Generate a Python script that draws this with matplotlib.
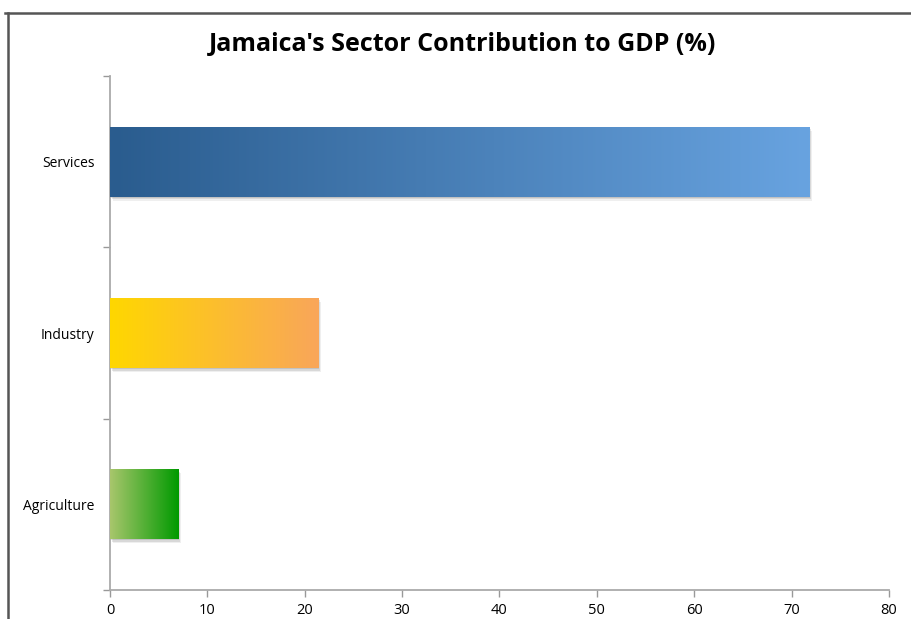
import matplotlib
matplotlib.use("Agg")
import matplotlib.pyplot as plt
import numpy as np
from matplotlib.colors import LinearSegmentedColormap
from matplotlib.lines import Line2D
from matplotlib.patches import Rectangle
import matplotlib.transforms as mtransforms

categories = ["Agriculture", "Industry", "Services"]
values = [7.0, 21.4, 71.8]
grad_left = ["#a8c66c", "#ffd700", "#2a5c8e"]
grad_right = ["#009a00", "#f9a65a", "#68a3e0"]
xticks = [0, 10, 20, 30, 40, 50, 60, 70, 80]
title = "Jamaica's Sector Contribution to GDP (%)"

plt.rcParams['font.family'] = ['Open Sans', 'DejaVu Sans']

fig = plt.figure(figsize=(9.11, 6.19), dpi=100)
ax = fig.add_axes([0.1207, 0.0468, 0.8551, 0.8304])

ypos = np.arange(len(categories))
bar_h = 0.41
bars = ax.barh(ypos, values, height=bar_h, color="white", zorder=2)

# soft shadows
for b in bars:
    x0, y0 = b.get_x(), b.get_y()
    w, h = b.get_width(), b.get_height()
    for dx, dy, a in [(1, -1, 0.25), (2, -2.5, 0.2), (3, -4, 0.12)]:
        off = mtransforms.ScaledTranslation(dx / 100, dy / 100, fig.dpi_scale_trans)
        r = Rectangle((x0, y0), w, h, facecolor="#808080", edgecolor="none",
                      alpha=a, transform=ax.transData + off, zorder=1.5)
        ax.add_patch(r)

grad = np.linspace(0, 1, 256).reshape(1, -1)
for b, cl, cr in zip(bars, grad_left, grad_right):
    cmap = LinearSegmentedColormap.from_list("g", [cl, cr])
    x0, y0 = b.get_x(), b.get_y()
    w, h = b.get_width(), b.get_height()
    im = ax.imshow(grad, cmap=cmap, aspect="auto", extent=[x0, x0 + w, y0, y0 + h],
                   zorder=3, interpolation="bilinear")
    im.set_clip_path(b)

ax.set_xlim(0, 80)
ax.set_ylim(-0.5, len(categories) - 0.5)
ax.set_xticks(xticks)
ax.set_xticklabels([str(t) for t in xticks], fontsize=10.5)
ax.set_yticks(ypos)
ax.set_yticklabels(categories, fontsize=10)
ax.tick_params(axis="y", length=0, pad=11)
ax.set_yticks(np.arange(-0.5, len(categories), 1.0), minor=True)
ax.tick_params(axis="y", which="minor", length=5, color="#999999", width=1)
ax.tick_params(axis="x", length=5, color="#999999", width=1, pad=4)

for s in ["top", "right"]:
    ax.spines[s].set_visible(False)
for s in ["left", "bottom"]:
    ax.spines[s].set_color("#aaaaaa")
    ax.spines[s].set_linewidth(1.3)

fig.text(0.508, 0.928, title, ha="center", va="center", fontsize=18, fontweight="bold")

# outer frame (top and left)
fig.add_artist(Line2D([5 / 911, 1.0], [1 - 13 / 619, 1 - 13 / 619], color="#555555", lw=1.8,
                      transform=fig.transFigure))
fig.add_artist(Line2D([8 / 911, 8 / 911], [1 - 13 / 619, 0], color="#555555", lw=1.8,
                      transform=fig.transFigure))

fig.savefig("out.png", dpi=100)
